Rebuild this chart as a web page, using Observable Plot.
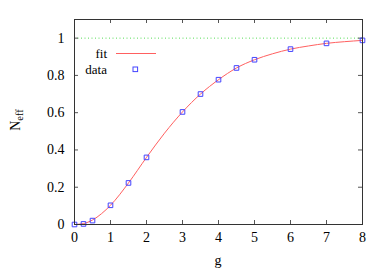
<!DOCTYPE html>
<html><head><meta charset="utf-8">
<script src="https://cdn.jsdelivr.net/npm/d3@7"></script>
<script src="https://cdn.jsdelivr.net/npm/@observablehq/plot@0.6"></script>
<style>body{margin:0;background:#fff} svg text, svg g{font-family:"Liberation Serif","Times New Roman",Times,serif !important;}</style>
</head><body><div id="chart"></div>
<script>
const dataG = [0, 0.25, 0.5, 1, 1.5, 2, 3, 3.5, 4, 4.5, 5, 6, 7, 8];
const dataN = [0, 0.003, 0.021, 0.103, 0.223, 0.36, 0.604, 0.70, 0.777, 0.84, 0.884, 0.941, 0.972, 0.988];
const fitG = [0, 0.25, 0.5, 0.75, 1, 1.5, 2, 2.5, 3, 3.5, 4, 4.5, 5, 5.5, 6, 6.5, 7, 7.5, 8];
const fitN = [0, 0.005, 0.024, 0.058, 0.103, 0.223, 0.36, 0.49, 0.604, 0.70, 0.777, 0.84, 0.884, 0.916, 0.941, 0.958, 0.972, 0.981, 0.988];
const xTicks = [0, 1, 2, 3, 4, 5, 6, 7, 8];
const yTicks = [0, 0.2, 0.4, 0.6, 0.8, 1];
const yTickLabels = ["0", "0.2", "0.4", "0.6", "0.8", "1"];

const data = dataG.map((g, i) => ({g, n: dataN[i]}));
const fit = fitG.map((g, i) => ({g, n: fitN[i]}));

const W = 389, H = 273;
const mL = 74, mR = 27, mT = 19, mB = 49;
const tick = 4;
const kx = 8 / (W - mL - mR), ky = 1.1 / (H - mT - mB);
const ff = "Liberation Serif, serif";

const plot = Plot.plot({
  width: W, height: H,
  marginLeft: mL, marginRight: mR, marginTop: mT, marginBottom: mB,
  style: {fontFamily: ff, fontSize: "14px", color: "#000", background: "#fff"},
  x: {domain: [0, 8]},
  y: {domain: [0, 1.1]},
  marks: [
    Plot.ruleY([1], {stroke: "#55dd55", strokeDasharray: "1,2.5", strokeWidth: 1}),
    Plot.ruleX(xTicks, {x: d => d, y1: 0, y2: tick * ky, stroke: "#555"}),
    Plot.ruleX(xTicks, {x: d => d, y1: 1.1, y2: 1.1 - tick * ky, stroke: "#555"}),
    Plot.ruleY(yTicks, {y: d => d, x1: 0, x2: tick * kx, stroke: "#555"}),
    Plot.ruleY(yTicks, {y: d => d, x1: 8, x2: 8 - tick * kx, stroke: "#555"}),
    Plot.line(fit, {x: "g", y: "n", stroke: "#ff6060", strokeWidth: 1, curve: "monotone-x"}),
    Plot.dot(data, {x: "g", y: "n", symbol: "square", r: 2.6, stroke: "#4444ff", strokeWidth: 1, fill: "none"}),
    Plot.frame({stroke: "#333"}),
    Plot.axisX(xTicks, {tickSize: 0, tickPadding: 8, fontSize: 14, label: null}),
    Plot.axisY(yTicks, {tickSize: 0, tickPadding: 10, fontSize: 14, label: null, tickFormat: (d, i) => yTickLabels[i]})
  ]
});
document.getElementById("chart").appendChild(plot);

const svg = d3.select(plot);
// axis titles
svg.append("text").attr("x", 218).attr("y", 265).attr("text-anchor", "middle")
  .attr("font-size", 14).text("g");
const yl = svg.append("text").attr("transform", "translate(20,120) rotate(-90)")
  .attr("text-anchor", "middle").attr("font-size", 14);
yl.append("tspan").text("N");
yl.append("tspan").attr("font-size", 10.5).attr("dy", 2.5).text("eff");
// legend
svg.append("text").attr("x", 107).attr("y", 58).attr("text-anchor", "end")
  .attr("font-size", 13).text("fit");
svg.append("line").attr("x1", 116).attr("x2", 156).attr("y1", 53.5).attr("y2", 53.5)
  .attr("stroke", "#ff6060").attr("stroke-width", 1);
svg.append("text").attr("x", 107).attr("y", 74).attr("text-anchor", "end")
  .attr("font-size", 13).text("data");
svg.append("rect").attr("x", 133).attr("y", 67).attr("width", 4.6).attr("height", 4.6)
  .attr("fill", "none").attr("stroke", "#4444ff").attr("stroke-width", 1);
</script>
</body></html>
